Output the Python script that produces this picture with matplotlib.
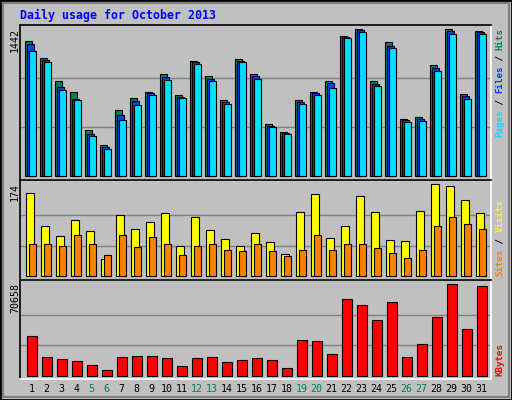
import numpy as np
import matplotlib.pyplot as plt
from matplotlib.patches import Rectangle

days = np.arange(1, 32)
weekend = [5, 6, 12, 13, 19, 20, 26, 27]

hits = [1324, 1158, 932, 824, 451, 304, 647, 765, 824, 1001, 795, 1128, 981, 746, 1148, 1001,
        510, 432, 746, 824, 932, 1373, 1442, 932, 1315, 559, 579, 1089, 1442, 804, 1422]
files = [1298, 1138, 873, 755, 412, 284, 598, 736, 814, 971, 775, 1118, 952, 726, 1128, 981,
         490, 422, 726, 814, 912, 1364, 1432, 902, 1275, 549, 559, 1059, 1422, 785, 1413]
pages = [1226, 1118, 844, 746, 392, 265, 549, 696, 795, 942, 765, 1099, 932, 706, 1118, 952,
         481, 412, 706, 795, 863, 1354, 1413, 883, 1256, 530, 540, 1030, 1393, 755, 1393]
visits = [157, 95, 76, 106, 85, 32, 115, 89, 102, 119, 57, 112, 87, 70, 57, 81,
          64, 43, 121, 155, 72, 95, 151, 121, 68, 66, 123, 174, 170, 144, 119]
sites = [62, 61, 57, 78, 61, 40, 79, 55, 74, 61, 40, 57, 61, 49, 47, 62,
         47, 38, 49, 78, 49, 61, 61, 53, 45, 34, 49, 96, 112, 98, 89]
kbytes = [30690, 14442, 12895, 11347, 8253, 4126, 14442, 15216, 15216, 13669, 7479, 13669,
          14442, 10574, 12121, 13669, 12121, 5932, 27595, 26822, 16763, 59317, 54674, 43069,
          56996, 14442, 24500, 45390, 70658, 36106, 69374]

W, H = 512, 400
BG = "#C0C0C0"
GREEN = "#00805C"
MONO = "DejaVu Sans Mono"

fig = plt.figure(figsize=(W / 100, H / 100), dpi=100, facecolor=BG)

def px_axes(x0, y0, x1, y1):
    return fig.add_axes([x0 / W, 1 - y1 / H, (x1 - x0) / W, (y1 - y0) / H])

x = days - 1 + 0.353  # left edge of each day slot

def setup(ax, top_px, bot_px, base_px, max_px, vmax):
    # map pixel rows to data so baseline/max land where the original has them
    per_px = vmax / (base_px - max_px)
    ax.set_ylim(-(bot_px - base_px) * per_px, vmax + (max_px - top_px) * per_px)
    ax.set_xlim(0, 471 / 15)
    ax.set_facecolor(BG)
    for g in (vmax / 3, vmax * 2 / 3):
        ax.axhline(g, color="#808080", lw=1, zorder=0)
    ax.set_xticks([]); ax.set_yticks([])
    for s in ("left", "top"):
        ax.spines[s].set_color("black")
    for s in ("right", "bottom"):
        ax.spines[s].set_color("white")
    for s in ax.spines.values():
        s.set_linewidth(1.2)

u = 1 / 15  # one pixel in x data units
ec = dict(edgecolor="black", linewidth=0.8, align="edge")

ax1 = px_axes(20, 25, 491, 180)
setup(ax1, 25, 180, 176.3, 29.3, 1442)
ax1.bar(x, hits, width=7 * u, color=GREEN, **ec)
ax1.bar(x + 2 * u, files, width=7 * u, color="#0040FF", **ec)
ax1.bar(x + 4 * u, pages, width=7 * u, color="#00E0FF", **ec)

ax2 = px_axes(20, 180, 491, 280)
setup(ax2, 180, 280, 276.3, 184.3, 174)
ax2.bar(x + 0.4 * u, visits, width=8 * u, color="#FFFF00", **ec)
ax2.bar(x + 4 * u, sites, width=7 * u, color="#FF8000", **ec)

ax3 = px_axes(20, 280, 491, 378.7)
setup(ax3, 280, 378.7, 375.7, 284.3, 70658)
ax3.bar(x + 1.4 * u, kbytes, width=10 * u, color="#FF0000", **ec)

# x labels
for d in days:
    cx = 20 + (d - 1 + 0.353) * 15 + 6.4
    fig.text(cx / W, 1 - 389 / H, str(d), ha="center", va="center", fontsize=7.2,
             family=MONO, color=GREEN if d in weekend else "black")

fig.text(20 / W, 1 - 15 / H, "Daily usage for October 2013", ha="left", va="center",
         fontsize=8.4, family=MONO, fontweight="bold", color="#0000FF")

for txt, ytop in (("1442", 28), ("174", 183), ("70658", 283)):
    fig.text(15 / W, 1 - ytop / H, txt, rotation=90, ha="center", va="top",
             fontsize=7.2, family=MONO)

def vlabel(parts, ybot):
    y = ybot
    for txt, col in parts:
        fig.text(500 / W, 1 - y / H, txt, rotation=90, ha="center", va="bottom",
                 fontsize=6.6, family=MONO, fontweight="bold", color=col)
        y -= len(txt) * 5.45

vlabel([("Pages", "#00E0FF"), (" / ", "black"), ("Files", "#0040FF"),
        (" / ", "black"), ("Hits", GREEN)], 137)
vlabel([("Sites", "#FF8000"), (" / ", "black"), ("Visits", "#FFFF00")], 276)
vlabel([("KBytes", "#FF0000")], 376)

# outer frame
fig.patches.append(Rectangle((0, 0), 1, 1, transform=fig.transFigure, fill=False,
                             edgecolor="black", linewidth=2))
fig.patches.append(Rectangle((3 / W, 3 / H), 1 - 6 / W, 1 - 6 / H, transform=fig.transFigure,
                             fill=False, edgecolor="#808080", linewidth=1.5))

fig.savefig("out.png", dpi=100, facecolor=BG)
